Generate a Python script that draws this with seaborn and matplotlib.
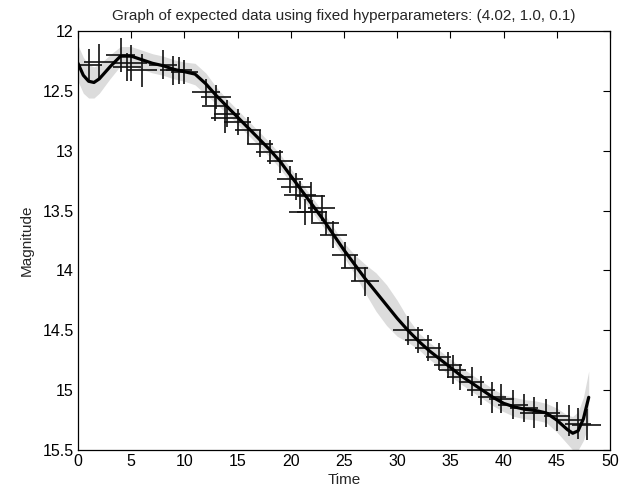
import numpy as np
import pandas as pd
import matplotlib
matplotlib.use("Agg")
import matplotlib.pyplot as plt
import seaborn as sns

# Observed data points (time, magnitude) with errors
obs_time = [1.0, 2.0, 4.0, 4.6, 5.0, 6.0, 8.0, 8.9, 9.5, 10.0, 12.0, 12.9, 13.0, 13.8,
            14.0, 15.0, 16.0, 17.1, 18.0, 19.0, 19.9, 20.5, 20.9, 21.3, 21.9, 22.0,
            22.9, 23.3, 24.0, 25.1, 26.0, 27.0, 31.0, 32.0, 32.9, 33.9, 34.8, 35.2,
            35.9, 37.0, 37.9, 38.9, 39.8, 40.9, 41.9, 42.9, 44.0, 45.0, 46.1, 47.0, 47.8]
obs_mag = [12.28, 12.26, 12.20, 12.30, 12.27, 12.33, 12.28, 12.33, 12.33, 12.34, 12.51, 12.63, 12.55, 12.73,
           12.69, 12.76, 12.83, 12.94, 13.01, 13.09, 13.24, 13.30, 13.37, 13.51, 13.38, 13.51,
           13.48, 13.60, 13.70, 13.87, 13.98, 14.09, 14.50, 14.58, 14.65, 14.72, 14.79, 14.83,
           14.89, 14.93, 15.00, 15.06, 15.07, 15.12, 15.15, 15.19, 15.19, 15.22, 15.25, 15.28, 15.29]
obs_xerr = [1.3, 1.4, 1.4, 1.3, 1.5, 1.4, 1.3, 1.2, 1.2, 1.3, 1.3, 1.2, 1.4, 1.3,
            1.2, 1.3, 1.2, 1.2, 1.3, 1.2, 1.2, 1.4, 1.5, 1.5, 1.3, 1.4,
            1.3, 1.2, 1.3, 1.2, 1.3, 1.3, 1.4, 1.3, 1.2, 1.2, 1.3, 1.3,
            1.2, 1.2, 1.3, 1.3, 1.2, 1.4, 1.3, 1.4, 1.3, 1.2, 1.3, 1.2, 1.4]
obs_yerr = [0.13, 0.15, 0.14, 0.12, 0.15, 0.14, 0.12, 0.12, 0.11, 0.10, 0.11, 0.12, 0.10, 0.12,
            0.11, 0.11, 0.11, 0.11, 0.10, 0.10, 0.11, 0.11, 0.12, 0.11, 0.12, 0.10,
            0.11, 0.10, 0.11, 0.11, 0.11, 0.12, 0.12, 0.11, 0.11, 0.11, 0.11, 0.12,
            0.11, 0.12, 0.12, 0.13, 0.12, 0.12, 0.12, 0.13, 0.12, 0.12, 0.13, 0.13, 0.13]

# Expected (GP mean) curve and its uncertainty half-width
curve_time = [0, 0.5, 1.0, 1.5, 2.0, 3.0, 4.0, 5.0, 6.0, 7.0, 8.0, 9.0, 10.0, 11.0, 12.0,
              13.0, 14.0, 15.0, 16.0, 17.0, 18.0, 19.0, 20.0, 21.0, 22.0, 23.0, 24.0, 25.0,
              26.0, 27.0, 28.0, 29.0, 30.0, 31.0, 32.0, 33.0, 34.0, 35.0, 36.0, 37.0, 38.0,
              39.0, 40.0, 41.0, 42.0, 43.0, 44.0, 45.0, 46.0, 46.5, 47.0, 47.5, 48.0]
curve_mag = [12.27, 12.37, 12.42, 12.43, 12.40, 12.30, 12.21, 12.21, 12.24, 12.27, 12.29, 12.32, 12.34, 12.36, 12.44,
             12.54, 12.63, 12.72, 12.81, 12.90, 12.99, 13.09, 13.21, 13.33, 13.45, 13.57, 13.70, 13.83,
             13.95, 14.07, 14.18, 14.29, 14.40, 14.50, 14.59, 14.67, 14.74, 14.81, 14.88, 14.94, 15.00,
             15.06, 15.11, 15.14, 15.16, 15.17, 15.19, 15.25, 15.33, 15.36, 15.34, 15.24, 15.06]
curve_sd = [0.15, 0.15, 0.14, 0.13, 0.12, 0.10, 0.08, 0.08, 0.08, 0.08, 0.08, 0.08, 0.08, 0.09, 0.09,
            0.07, 0.06, 0.06, 0.06, 0.06, 0.06, 0.06, 0.06, 0.06, 0.06, 0.06, 0.06, 0.06,
            0.08, 0.12, 0.16, 0.17, 0.15, 0.10, 0.07, 0.07, 0.07, 0.07, 0.07, 0.07, 0.07,
            0.07, 0.07, 0.08, 0.08, 0.08, 0.08, 0.10, 0.12, 0.14, 0.16, 0.18, 0.22]

title = "Graph of expected data using fixed hyperparameters: (4.02, 1.0, 0.1)"

sns.set_style("white")
plt.rcParams['font.family'] = ['Liberation Sans', 'DejaVu Sans']

fig = plt.figure(figsize=(6.27, 4.95), dpi=100)
ax = fig.add_axes([0.1244, 0.0909, 0.8485, 0.8465])

curve = pd.DataFrame({"time": curve_time, "mag": curve_mag, "sd": curve_sd})
ax.fill_between(curve["time"], curve["mag"] - curve["sd"], curve["mag"] + curve["sd"],
                color="#dcdcdc", linewidth=0, zorder=1)

obs = pd.DataFrame({"time": obs_time, "mag": obs_mag, "xerr": obs_xerr, "yerr": obs_yerr})
ax.errorbar(obs["time"], obs["mag"], xerr=obs["xerr"], yerr=obs["yerr"],
            fmt="none", ecolor="#111111", elinewidth=1.2, capsize=0, zorder=2)

sns.lineplot(data=curve, x="time", y="mag", color="black", linewidth=2.3,
             ax=ax, zorder=3, sort=False)

ax.set_xlim(0, 50)
ax.set_ylim(15.5, 12)
ax.set_xticks(np.arange(0, 51, 5))
ax.set_yticks(np.arange(12, 15.51, 0.5))
ax.set_yticklabels(["12", "12.5", "13", "13.5", "14", "14.5", "15", "15.5"])
ax.tick_params(direction="in", length=5, width=0.8, top=True, right=True,
               labelsize=11.5, colors="black", pad=3)
for s in ax.spines.values():
    s.set_color("black")
    s.set_linewidth(0.9)
ax.set_xlabel("Time", fontsize=11, labelpad=3)
ax.set_ylabel("Magnitude", fontsize=11, labelpad=6)
ax.set_title(title, fontsize=11, pad=8)

fig.savefig("out.png", dpi=100)
